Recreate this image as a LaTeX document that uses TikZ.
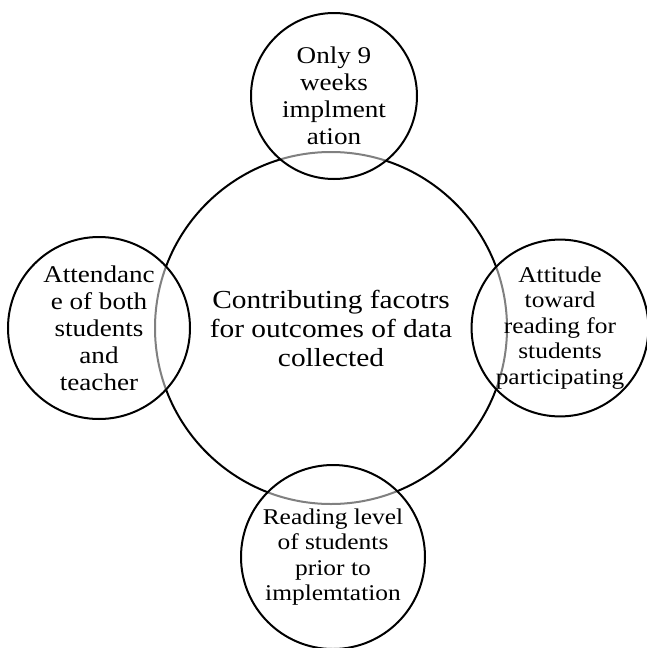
\documentclass[tikz,border=0pt]{standalone}
\usepackage{fontspec}
\setmainfont{Liberation Serif}[FakeStretch=1.13]
\usetikzlibrary{positioning}
\tikzset{
  core/.style={circle, draw=black, line width=2pt, inner sep=0pt,
               align=center, font=\fontsize{26}{29}\selectfont},
  factor/.style={circle, draw=black, line width=2pt, inner sep=0pt,
                 fill=white, fill opacity=0.5, text opacity=1,
                 align=center, font=\fontsize{24}{27}\selectfont},
  smaller/.style={font=\fontsize{22.5}{25.5}\selectfont}
}

\begin{document}
\begin{tikzpicture}[x=1pt,y=-1pt]
  \useasboundingbox (0,0) rectangle (647,648);
  %---- central circle ---------------------------------------------------------
  \node[core, minimum size=352pt] (core) at (331,328)
    {Contributing facotrs\\for outcomes of data\\collected};
  %---- factors around it ------------------------------------------------------
  \node[factor, minimum size=166pt] (weeks) at (334,96)
    {Only 9\\weeks\\implment\\ation};
  \node[factor, minimum size=182pt] (attend) at (99,328)
    {Attendanc\\e of both\\students\\and\\teacher};
  \node[factor, smaller, minimum size=176pt] (attitude) at (560,328)
    {Attitude\\toward\\reading for\\students\\participating};
  \node[factor, smaller, minimum size=184pt] (level) at (333,557)
    {Reading level\\of students\\prior to\\implemtation};
\end{tikzpicture}
\end{document}
